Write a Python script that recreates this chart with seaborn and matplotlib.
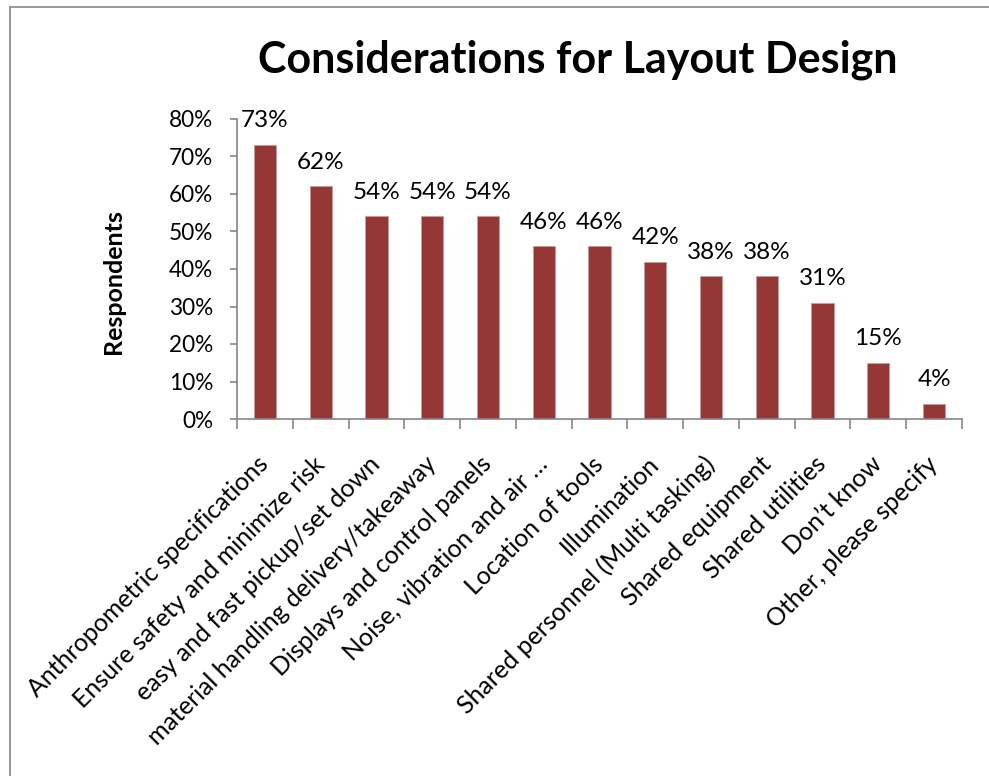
import matplotlib
matplotlib.use("Agg")
import matplotlib.pyplot as plt
import matplotlib.transforms as mtransforms
import seaborn as sns
import pandas as pd
from matplotlib.lines import Line2D
from matplotlib.ticker import PercentFormatter, FixedLocator

categories = [
    "Anthropometric specifications",
    "Ensure safety and minimize risk",
    "easy and fast pickup/set down",
    "material handling delivery/takeaway",
    "Displays and control panels",
    "Noise, vibration and air …",
    "Location of tools",
    "Illumination",
    "Shared personnel (Multi tasking)",
    "Shared equipment",
    "Shared utilities",
    "Don’t know",
    "Other, please specify",
]
values = [0.73, 0.62, 0.54, 0.54, 0.54, 0.46, 0.46, 0.42, 0.38, 0.38, 0.31, 0.15, 0.04]
yticks = [0, 0.1, 0.2, 0.3, 0.4, 0.5, 0.6, 0.7, 0.8]

sns.set_style("white")
plt.rcParams["font.family"] = ["Lato", "DejaVu Sans"]
plt.rcParams["text.color"] = "black"
plt.rcParams["axes.labelcolor"] = "black"
plt.rcParams["xtick.color"] = "black"
plt.rcParams["ytick.color"] = "black"

df = pd.DataFrame({"cat": categories, "val": values})

fig = plt.figure(figsize=(9.89, 7.76), dpi=100)
ax = fig.add_axes([237/989, 1-419/776, (962-237)/989, (419-119)/776])

sns.barplot(data=df, x="cat", y="val", color="#953735", width=0.4,
            saturation=1, ax=ax, edgecolor="#c89a99", linewidth=0.6)

ax.set_xlim(-0.5, len(categories) - 0.5)
ax.set_ylim(0, 0.8)
ax.set_yticks(yticks)
ax.yaxis.set_major_formatter(PercentFormatter(1.0, decimals=0))
ax.tick_params(axis="y", labelsize=16.3, length=5, direction="out",
               color="#868686", labelcolor="black", width=1.2, pad=12, left=True)

ax.set_xticks(range(len(categories)))
ax.set_xticklabels(categories, rotation=45, ha="right", rotation_mode="anchor",
                   fontsize=18)
ax.tick_params(axis="x", which="major", length=0, pad=24, labelcolor="black")
ax.xaxis.set_minor_locator(FixedLocator([i - 0.5 for i in range(len(categories) + 1)]))
ax.tick_params(axis="x", which="minor", length=7, direction="out",
               color="#868686", width=1.2, bottom=True)

shift = mtransforms.ScaledTranslation(-8/100, 0, fig.dpi_scale_trans)
for lbl in ax.get_xticklabels():
    lbl.set_transform(lbl.get_transform() + shift)

for side in ["top", "right"]:
    ax.spines[side].set_visible(False)
for side in ["left", "bottom"]:
    ax.spines[side].set_color("#868686")
    ax.spines[side].set_linewidth(1.2)

ax.bar_label(ax.containers[0], labels=[f"{round(v*100)}%" for v in values],
             padding=10, fontsize=17.5, color="black")

ax.set_xlabel("")
ax.set_ylabel("Respondents", fontsize=18, fontweight="bold", color="black")
ax.yaxis.set_label_coords((125-237)/725, 1-(282-119)/300)

fig.text(578/989, 1-60/776, "Considerations for Layout Design", ha="center",
         va="center", fontsize=31, fontweight="bold", color="black")

# outer chart frame
fig.add_artist(Line2D([10/989, 10/989], [0, 1-7/776], transform=fig.transFigure,
                      color="#868686", linewidth=1.2))
fig.add_artist(Line2D([10/989, 1], [1-7/776, 1-7/776], transform=fig.transFigure,
                      color="#868686", linewidth=1.2))

fig.savefig("out.png", dpi=100)
